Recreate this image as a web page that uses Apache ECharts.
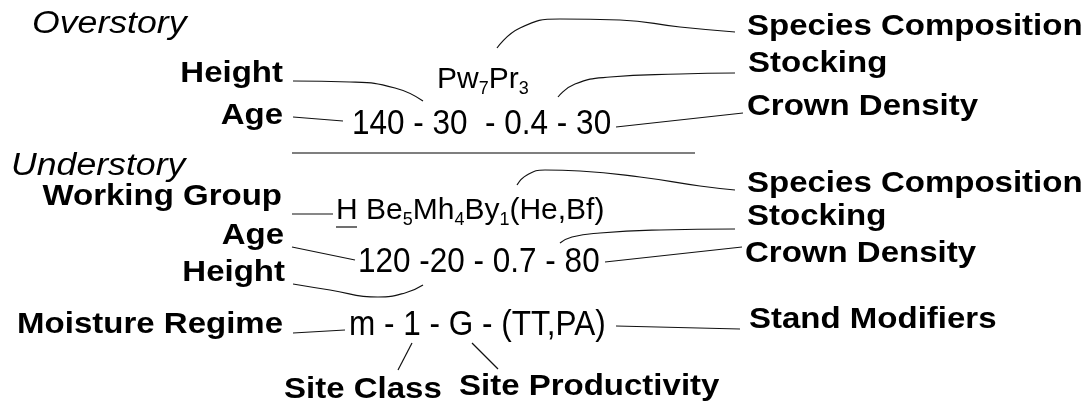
<!DOCTYPE html>
<html>
<head>
<meta charset="utf-8">
<script src="https://cdn.jsdelivr.net/npm/echarts@6/dist/echarts.min.js"></script>
<style>
  html, body { margin: 0; padding: 0; background: #fff; }
  #chart { width: 1091px; height: 410px; }
</style>
</head>
<body>
<div id="chart"></div>
<script>
// section headings
const sectionTitles = ['Overstory', 'Understory'];
const sectionTitleAt = [[32, 24], [11, 166]];

// labels left of the codes (text ends at the point)
const leftLabels = ['Height', 'Age', 'Working Group', 'Age', 'Height', 'Moisture Regime'];
const leftLabelAt = [[283, 74], [283, 116], [282, 197], [284, 236], [285, 273], [283, 325]];

// labels right of the codes
const rightLabels = ['Species Composition', 'Stocking', 'Crown Density',
  'Species Composition', 'Stocking', 'Crown Density', 'Stand Modifiers'];
const rightLabelAt = [[747, 27], [748, 64], [747, 107], [747, 184], [747, 217], [745, 254], [749, 320]];

// labels under the site code
const bottomLabels = ['Site Class', 'Site Productivity'];
const bottomLabelAt = [[284, 390], [459, 387]];

// species codes, _n = subscript
const speciesCodes = ['Pw_7Pr_3', 'H Be_5Mh_4By_1(He,Bf)'];
const speciesCodeAt = [[437, 80], [336, 211]];

// age - height - stocking - density, and the site code
const numberCodes = ['140 - 30  - 0.4 - 30', '120 -20 - 0.7 - 80', 'm - 1 - G - (TT,PA)'];
const numberCodeAt = [[352, 124], [358, 262], [349, 325]];

// leader lines
const leaders = [
  [[293, 81], [350, 82], [395, 88], [423, 101]],
  [[293, 117], [343, 121]],
  [[497, 48], [520, 28], [560, 19], [620, 20], [680, 27], [735, 32]],
  [[558, 97], [575, 84], [610, 77], [680, 74], [735, 73]],
  [[616, 127], [743, 113]],
  [[292, 214], [333, 214]],
  [[336, 227], [357, 227]],
  [[292, 247], [355, 260]],
  [[293, 284], [330, 290], [378, 297], [405, 293], [423, 285]],
  [[517, 185], [527, 175], [545, 170], [580, 171], [640, 177], [700, 186], [735, 190]],
  [[560, 243], [572, 237], [600, 233], [660, 230], [735, 229]],
  [[605, 262], [742, 247]],
  [[293, 333], [345, 330]],
  [[616, 326], [740, 329]],
  [[412, 343], [398, 370]],
  [[472, 343], [498, 369]]
];
const separator = [[292, 153], [695, 153]];

const FAMILY = "'Liberation Sans', Arial, Helvetica, sans-serif";

const ctx = document.createElement('canvas').getContext('2d');
const measure = (t, font) => { ctx.font = font; return ctx.measureText(t).width; };

function textSeries(names, pos, cfg) {
  return {
    type: 'custom',
    silent: true,
    data: pos.map(p => [p[0], p[1]]),
    renderItem: (params, api) => {
      const at = api.coord([api.value(0), api.value(1)]);
      const parts = names[params.dataIndex].split(/_(\d)/);
      const children = [];
      let x = 0;
      parts.forEach((t, k) => {
        if (!t) return;
        const sub = k % 2 === 1;
        const font = sub ? cfg.subFont : cfg.font;
        children.push({
          type: 'text',
          x: x,
          y: sub ? cfg.subDy : 0,
          style: {
            text: t, font: font, fill: '#000',
            align: 'left', verticalAlign: 'middle',
            textAlign: 'left', textVerticalAlign: 'middle'
          }
        });
        x += measure(t, font);
      });
      if (cfg.alignRight) children.forEach(c => { c.x -= x; });
      return { type: 'group', x: at[0], y: at[1], scaleX: cfg.scaleX || 1, children: children };
    }
  };
}

const bold = 'bold 30px ' + FAMILY;
const series = [
  textSeries(sectionTitles, sectionTitleAt, { font: 'italic 31px ' + FAMILY, scaleX: 1.15 }),
  textSeries(leftLabels, leftLabelAt, { font: bold, scaleX: 1.1, alignRight: true }),
  textSeries(rightLabels, rightLabelAt, { font: bold, scaleX: 1.1 }),
  textSeries(bottomLabels, bottomLabelAt, { font: bold, scaleX: 1.1 }),
  textSeries(speciesCodes, speciesCodeAt, {
    font: '30px ' + FAMILY, subFont: '18px ' + FAMILY, subDy: 9
  }),
  textSeries(numberCodes, numberCodeAt, { font: '35px ' + FAMILY, scaleX: 0.9 })
];

leaders.forEach(pts => series.push({
  type: 'line',
  data: pts,
  smooth: 0.5,
  symbol: 'none',
  silent: true,
  lineStyle: { color: '#111', width: 1.2 }
}));
series.push({
  type: 'line',
  data: separator,
  symbol: 'none',
  silent: true,
  lineStyle: { color: '#555', width: 1.6 }
});

const chart = echarts.init(document.getElementById('chart'));
chart.setOption({
  animation: false,
  backgroundColor: '#fff',
  grid: { left: 0, right: 0, top: 0, bottom: 0 },
  xAxis: { type: 'value', min: 0, max: 1091, show: false },
  yAxis: { type: 'value', min: 0, max: 410, inverse: true, show: false },
  series: series
});
</script>
</body>
</html>
